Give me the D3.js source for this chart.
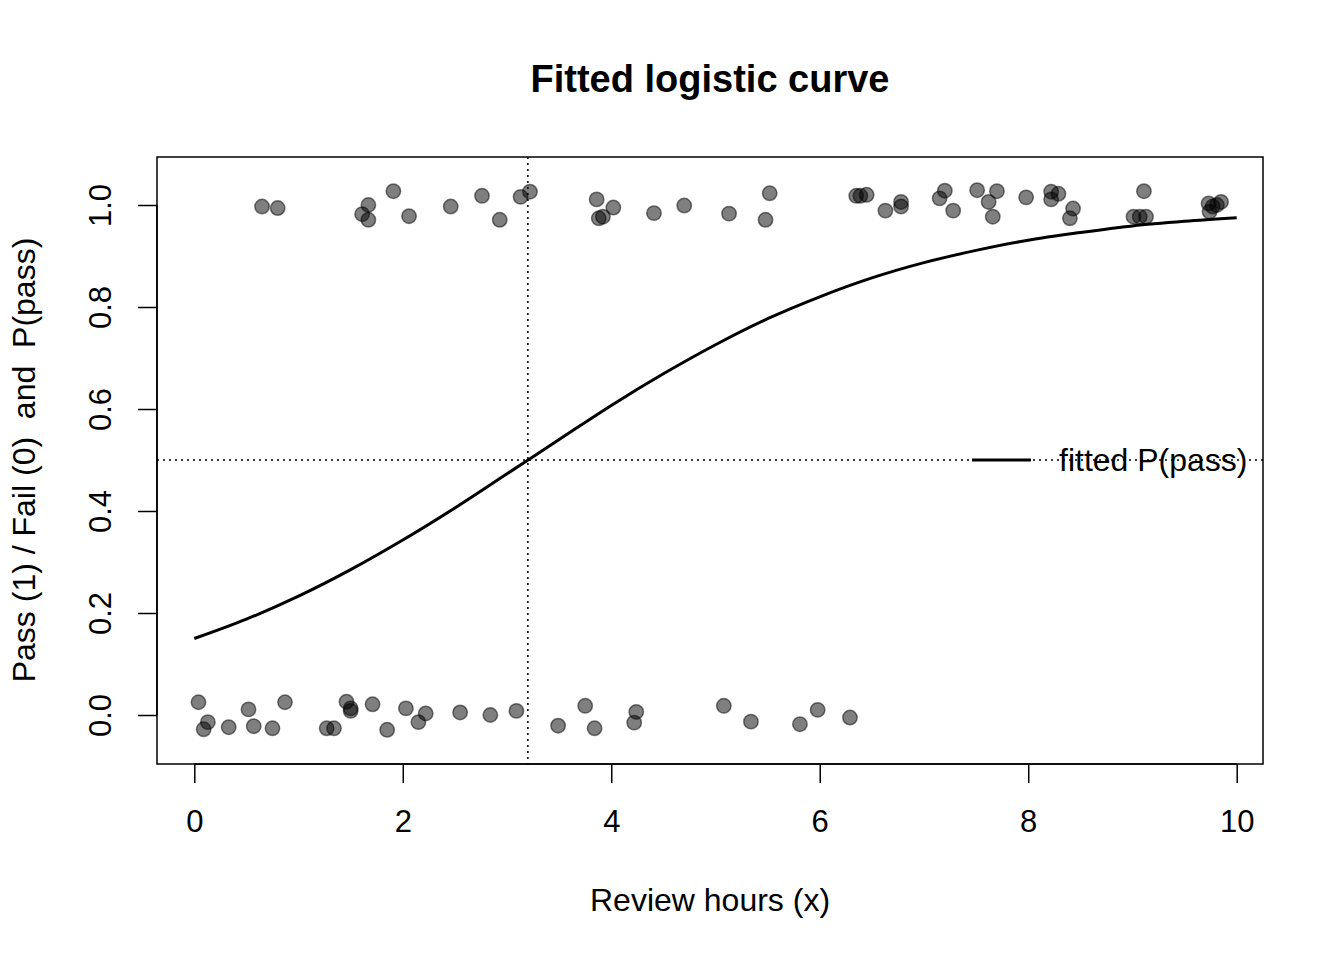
<!DOCTYPE html>
<head>
  <meta charset="utf-8">
  <script src="https://d3js.org/d3.v7.min.js"></script>
  <style>
    body { margin:0; background:#fff; }
    text { font-family: "Liberation Sans", Arial, sans-serif; fill:#000; white-space: pre; }
  </style>
</head>

<body>
  <script>

  // observed outcomes (jittered around 0 and 1 as drawn)
  var passHours = [0.65, 0.80, 1.61, 1.67, 1.67, 1.91, 2.06, 2.46, 2.76, 2.93, 3.13, 3.22,
    3.86, 3.88, 3.92, 4.02, 4.41, 4.70, 5.13, 5.48, 5.52, 6.35, 6.39, 6.45, 6.63, 6.78, 6.78,
    7.15, 7.20, 7.28, 7.51, 7.62, 7.66, 7.70, 7.98, 8.22, 8.22, 8.29, 8.40, 8.43,
    9.01, 9.07, 9.11, 9.13, 9.73, 9.74, 9.77, 9.81, 9.85];
  var passY = [0.997, 0.994, 0.982, 1.000, 0.971, 1.027, 0.978, 0.997, 1.018, 0.971, 1.016, 1.026,
    1.011, 0.974, 0.977, 0.995, 0.984, 0.999, 0.983, 0.971, 1.023, 1.018, 1.018, 1.020, 0.989, 1.006, 0.997,
    1.013, 1.028, 0.989, 1.029, 1.006, 0.977, 1.027, 1.015, 1.026, 1.011, 1.022, 0.974, 0.993,
    0.977, 0.977, 1.027, 0.977, 1.003, 0.987, 0.997, 1.000, 1.006];

  var failHours = [0.04, 0.09, 0.13, 0.33, 0.52, 0.57, 0.75, 0.87, 1.27, 1.34, 1.46, 1.50, 1.50,
    1.71, 1.85, 2.03, 2.15, 2.22, 2.55, 2.84, 3.09, 3.49, 3.75, 3.84, 4.22, 4.24,
    5.08, 5.34, 5.81, 5.98, 6.29];
  var failY = [0.025, -0.028, -0.014, -0.024, 0.011, -0.022, -0.026, 0.025, -0.026, -0.026, 0.026, 0.013, 0.008,
    0.021, -0.029, 0.013, -0.014, 0.003, 0.005, 0.000, 0.008, -0.021, 0.018, -0.026, -0.015, 0.006,
    0.018, -0.013, -0.018, 0.010, -0.005];

  // fitted probability
  var curveX = [0, 0.5, 1, 1.5, 2, 2.5, 3, 3.5, 4, 4.5, 5, 5.5, 6, 6.5, 7, 7.5, 8, 8.5, 9, 9.5, 10];
  var curveP = [0.150, 0.188, 0.233, 0.285, 0.343, 0.406, 0.473, 0.540, 0.607, 0.669, 0.726,
    0.777, 0.820, 0.857, 0.887, 0.911, 0.931, 0.946, 0.959, 0.968, 0.975];

  var cutHours = 3.2;
  var cutP = 0.5;

  var xTicks = [0, 2, 4, 6, 8, 10];
  var yTicks = [0, 0.2, 0.4, 0.6, 0.8, 1.0];

  var width = 1344, height = 960;
  var box = {left: 157, right: 1263, top: 157, bottom: 764};
  var fs = 31;

  var svg = d3.select("body").append("svg")
    .attr("width", width)
    .attr("height", height);

  var xScale = d3.scaleLinear().domain([0, 10]).range([194.3, 1236.7]);
  var yScale = d3.scaleLinear().domain([0, 1]).range([715, 205]);

  svg.append("defs").append("clipPath").attr("id", "clip")
    .append("rect")
    .attr("x", box.left).attr("y", box.top)
    .attr("width", box.right - box.left).attr("height", box.bottom - box.top);

  // points
  var pts = [];
  for (var i = 0; i < passHours.length; i++) pts.push([passHours[i], passY[i]]);
  for (var i = 0; i < failHours.length; i++) pts.push([failHours[i], failY[i]]);

  svg.append("g").selectAll("circle")
    .data(pts)
    .enter()
    .append("circle")
    .attr("cx", function(d) { return xScale(d[0]); })
    .attr("cy", function(d) { return yScale(d[1]); })
    .attr("r", 7.2)
    .attr("fill", "rgba(0,0,0,0.5)")
    .attr("stroke", "rgba(0,0,0,0.5)")
    .attr("stroke-width", 1.5);

  // fitted curve
  var line = d3.line()
    .x(function(d, i) { return xScale(curveX[i]); })
    .y(function(d) { return yScale(d); })
    .curve(d3.curveMonotoneX);

  svg.append("path")
    .datum(curveP)
    .attr("d", line)
    .attr("fill", "none")
    .attr("stroke", "#000")
    .attr("stroke-width", 3);

  // reference lines
  var refs = svg.append("g").attr("clip-path", "url(#clip)");
  refs.append("line")
    .attr("x1", box.left).attr("x2", box.right)
    .attr("y1", yScale(cutP)).attr("y2", yScale(cutP))
    .attr("stroke", "#000").attr("stroke-width", 1.5)
    .attr("stroke-dasharray", "2,4");
  refs.append("line")
    .attr("x1", xScale(cutHours)).attr("x2", xScale(cutHours))
    .attr("y1", box.top).attr("y2", box.bottom)
    .attr("stroke", "#000").attr("stroke-width", 1.5)
    .attr("stroke-dasharray", "2,4");

  // legend (sits on the 0.5 line, no box)
  var legY = yScale(cutP);
  svg.append("line")
    .attr("x1", 972).attr("x2", 1031)
    .attr("y1", legY).attr("y2", legY)
    .attr("stroke", "#000").attr("stroke-width", 3);
  svg.append("text")
    .attr("x", 1059).attr("y", legY + 11)
    .attr("font-size", 32)
    .text("fitted P(pass)");

  // frame
  svg.append("rect")
    .attr("x", box.left).attr("y", box.top)
    .attr("width", box.right - box.left).attr("height", box.bottom - box.top)
    .attr("fill", "none").attr("stroke", "#000").attr("stroke-width", 1.5);

  // bottom axis
  var axisB = d3.axisBottom(xScale).tickValues(xTicks).tickSize(19).tickPadding(27)
    .tickFormat(d3.format("d"));
  var gB = svg.append("g").attr("transform", "translate(0," + box.bottom + ")").call(axisB);
  gB.select(".domain").attr("d", "M" + xScale(0) + ",0H" + xScale(10))
    .attr("stroke-width", 1.5);
  gB.selectAll(".tick line").attr("stroke-width", 1.5);
  gB.selectAll("text").attr("font-size", fs).attr("font-family", "Liberation Sans, Arial, sans-serif");

  // left axis, labels rotated
  var axisL = d3.axisLeft(yScale).tickValues(yTicks).tickSize(19).tickPadding(0)
    .tickFormat(d3.format(".1f"));
  var gL = svg.append("g").attr("transform", "translate(" + box.left + ",0)").call(axisL);
  gL.select(".domain").attr("d", "M0," + yScale(0) + "V" + yScale(1))
    .attr("stroke-width", 1.5);
  gL.selectAll(".tick line").attr("stroke-width", 1.5);
  gL.selectAll("text")
    .attr("font-size", fs)
    .attr("font-family", "Liberation Sans, Arial, sans-serif")
    .attr("x", null).attr("dy", null)
    .attr("text-anchor", "middle")
    .attr("transform", "translate(-46,0) rotate(-90)")
    .attr("y", 0);

  // titles
  svg.append("text")
    .attr("x", 710).attr("y", 92)
    .attr("text-anchor", "middle")
    .attr("font-size", 38).attr("font-weight", "bold")
    .text("Fitted logistic curve");

  svg.append("text")
    .attr("x", 710).attr("y", 911)
    .attr("text-anchor", "middle")
    .attr("font-size", 32)
    .text("Review hours (x)");

  svg.append("text")
    .attr("transform", "translate(35,460) rotate(-90)")
    .attr("text-anchor", "middle")
    .attr("font-size", 32)
    .text("Pass (1) / Fail (0)  and  P(pass)");

  </script>
</body>
